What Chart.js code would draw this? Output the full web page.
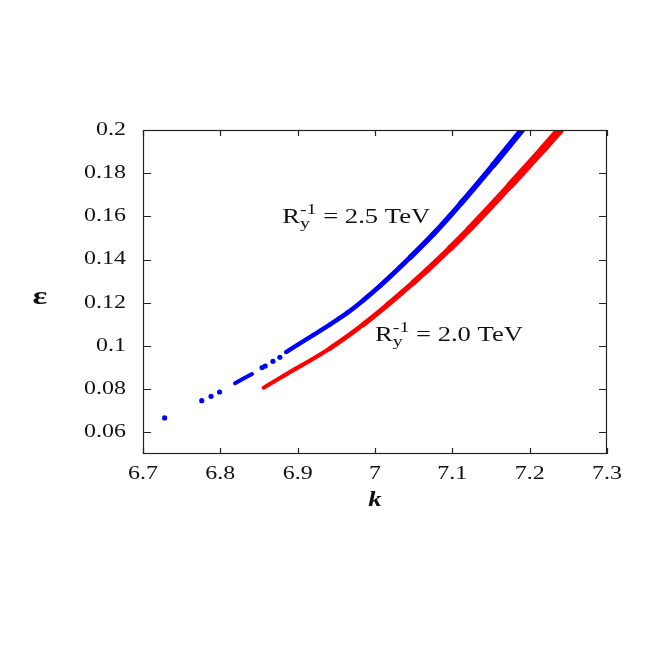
<!DOCTYPE html>
<html>
<head>
<meta charset="utf-8">
<script src="https://cdn.jsdelivr.net/npm/chart.js@4"></script>
<style>
  html, body { margin: 0; padding: 0; background: #fff; }
  #wrap { width: 654px; height: 654px; }
</style>
</head>
<body>
<div id="wrap"><canvas id="epsChart"></canvas></div>
<script>
// k vs epsilon, two R_y^-1 bands

const xTicks = [6.7, 6.8, 6.9, 7.0, 7.1, 7.2, 7.3];
const yTicks = [0.06, 0.08, 0.10, 0.12, 0.14, 0.16, 0.18, 0.20];

// R_y^-1 = 2.5 TeV (blue): scattered dots, a short dash, then the continuous band
const blueDotK   = [6.728, 6.776, 6.788, 6.799, 6.854, 6.858, 6.868, 6.877];
const blueDotEps = [0.0667, 0.0747, 0.0767, 0.0787, 0.0900, 0.0907, 0.0929, 0.0948];
const blueDashK   = [6.819, 6.830, 6.841];
const blueDashEps = [0.0827, 0.0849, 0.0870];
const blueK   = [6.885, 6.920, 6.942, 6.964, 6.985, 7.007, 7.046, 7.076, 7.111, 7.153, 7.190];
const blueEps = [0.0972, 0.1050, 0.1100, 0.1153, 0.1212, 0.1280, 0.1412, 0.1520, 0.1660, 0.1838, 0.2000];

// R_y^-1 = 2.0 TeV (red)
const redK   = [6.856, 6.882, 6.942, 6.985, 7.016, 7.050, 7.067, 7.097, 7.122, 7.175, 7.218, 7.239];
const redEps = [0.0807, 0.0862, 0.0990, 0.1100, 0.1190, 0.1295, 0.1350, 0.1452, 0.1542, 0.1745, 0.1915, 0.2000];

const SERIF = '"Liberation Serif", "Times New Roman", serif';
const SX = 1.33; // text in the original is stretched sideways

const pts = (xs, ys) => xs.map((x, i) => ({ x, y: ys[i] }));

// band gets thicker towards the top
function bandWidth(lo, hi) {
  return ctx => {
    const y = ctx.p0.parsed.y;
    const t = Math.min(1, Math.max(0, (y - 0.08) / 0.12));
    return lo + t * (hi - lo);
  };
}

function stretchedText(ctx, text, x, y, font, align) {
  ctx.save();
  ctx.translate(x, y);
  ctx.scale(SX, 1);
  ctx.font = font;
  ctx.textAlign = align || "left";
  ctx.fillText(text, 0, 0);
  ctx.restore();
}

function rLabel(ctx, x, y, tail) {
  ctx.save();
  ctx.translate(x, y);
  ctx.scale(SX, 1);
  ctx.textAlign = "left";
  ctx.textBaseline = "alphabetic";
  ctx.font = "20px " + SERIF;
  ctx.fillText("R", 0, 0);
  const w = ctx.measureText("R").width;
  ctx.font = "15px " + SERIF;
  ctx.fillText("y", w, 5);
  ctx.fillText("-1", w, -9);
  const w2 = Math.max(ctx.measureText("y").width, ctx.measureText("-1").width);
  ctx.font = "20px " + SERIF;
  ctx.fillText(tail, w + w2, 0);
  ctx.restore();
}

const framePlugin = {
  id: "frame",
  afterDraw(chart) {
    const { ctx, chartArea: a, scales } = chart;
    const xs = scales.x, ys = scales.y;
    ctx.save();
    ctx.strokeStyle = "#222";
    ctx.lineWidth = 1.2;
    ctx.strokeRect(a.left + 0.5, a.top + 0.5, a.right - a.left - 1, a.bottom - a.top - 1);

    ctx.beginPath();
    xTicks.forEach(v => {
      const px = Math.round(xs.getPixelForValue(v)) + 0.5;
      ctx.moveTo(px, a.bottom); ctx.lineTo(px, a.bottom - 6);
      ctx.moveTo(px, a.top); ctx.lineTo(px, a.top + 6);
    });
    yTicks.forEach(v => {
      const py = Math.round(ys.getPixelForValue(v)) + 0.5;
      ctx.moveTo(a.left, py); ctx.lineTo(a.left + 8, py);
      ctx.moveTo(a.right, py); ctx.lineTo(a.right - 8, py);
    });
    ctx.stroke();

    ctx.fillStyle = "#111";
    ctx.textBaseline = "middle";
    const tickFont = "18px " + SERIF;
    xTicks.forEach(v => {
      stretchedText(ctx, String(+v.toFixed(2)), xs.getPixelForValue(v), a.bottom + 20, tickFont, "center");
    });
    yTicks.forEach(v => {
      stretchedText(ctx, String(+v.toFixed(2)), a.left - 17, ys.getPixelForValue(v), tickFont, "right");
    });

    // axis titles
    stretchedText(ctx, "\u03b5", 40, 297, "bold 26px " + SERIF, "center");
    ctx.textBaseline = "alphabetic";
    stretchedText(ctx, "k", xs.getPixelForValue(7.0), 506, "italic bold 20px " + SERIF, "center");

    // band labels
    rLabel(ctx, xs.getPixelForValue(6.880), ys.getPixelForValue(0.157), " = 2.5 TeV");
    rLabel(ctx, xs.getPixelForValue(7.000), ys.getPixelForValue(0.1023), " = 2.0 TeV");
    ctx.restore();
  }
};

const BLUE = "#0000ff";
const RED = "#ff0000";

new Chart(document.getElementById("epsChart").getContext("2d"), {
  type: "scatter",
  data: {
    datasets: [
      {
        data: pts(redK, redEps), showLine: true, borderColor: RED, backgroundColor: RED,
        borderWidth: 4, borderCapStyle: "round", borderJoinStyle: "round",
        pointRadius: 0, cubicInterpolationMode: "monotone",
        segment: { borderWidth: bandWidth(4, 8.5) }
      },
      {
        data: pts(blueK, blueEps), showLine: true, borderColor: BLUE, backgroundColor: BLUE,
        borderWidth: 4, borderCapStyle: "round", borderJoinStyle: "round",
        pointRadius: 0, cubicInterpolationMode: "monotone",
        segment: { borderWidth: bandWidth(4, 6.5) }
      },
      {
        data: pts(blueDashK, blueDashEps), showLine: true, borderColor: BLUE, backgroundColor: BLUE,
        borderWidth: 4, borderCapStyle: "round", pointRadius: 0
      },
      {
        data: pts(blueDotK, blueDotEps), showLine: false, borderColor: BLUE, backgroundColor: BLUE,
        pointRadius: 2.6, borderWidth: 0
      }
    ]
  },
  options: {
    responsive: true,
    maintainAspectRatio: false,
    animation: false,
    layout: { padding: { left: 0, right: 47, top: 130, bottom: 0 } },
    plugins: { legend: { display: false }, tooltip: { enabled: false } },
    scales: {
      x: {
        type: "linear", min: 6.7, max: 7.3,
        afterBuildTicks: s => { s.ticks = xTicks.map(v => ({ value: v })); },
        afterFit: s => { s.height = 200; },
        grid: { display: false, drawTicks: false },
        border: { display: false },
        ticks: { display: false }
      },
      y: {
        type: "linear", min: 0.05, max: 0.2,
        afterBuildTicks: s => { s.ticks = yTicks.map(v => ({ value: v })); },
        afterFit: s => { s.width = 143; },
        grid: { display: false, drawTicks: false },
        border: { display: false },
        ticks: { display: false }
      }
    }
  },
  plugins: [framePlugin]
});
</script>
</body>
</html>
